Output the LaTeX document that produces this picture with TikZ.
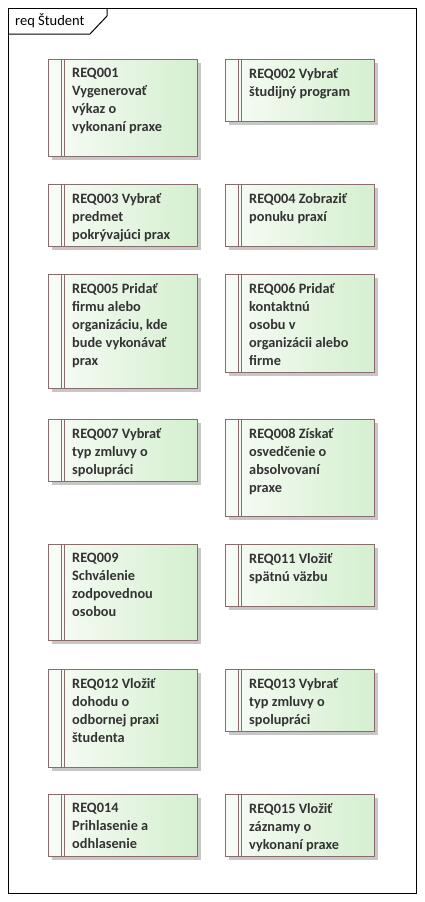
\documentclass[tikz,border=0pt]{standalone}
\usepackage{fontspec}
\newfontfamily\reqfamily{Carlito}
\usepackage{xcolor}
\usepackage{tikz}
\usetikzlibrary{shadows}
\usetikzlibrary{positioning}

\definecolor{reqborder}{RGB}{139,108,108}
\definecolor{reqgreen}{RGB}{212,239,207}
\definecolor{reqwhite}{RGB}{248,252,247}

\begin{document}
\begin{tikzpicture}[
    x=1pt, y=-1pt,
    reqbox/.style={rectangle, draw=reqborder, line width=1pt, anchor=north west, inner sep=+0pt,
        minimum width=149pt, left color=reqwhite, right color=reqgreen,
        drop shadow={shadow xshift=3pt, shadow yshift=-3pt, fill=black!22, opacity=1}},
    reqtext/.style={anchor=north west, inner sep=+0pt, align=left, text=black!80,
        font=\reqfamily\bfseries\fontsize{14.3}{18}\selectfont, execute at begin node=\strut},
    ]
\useasboundingbox (0,0) rectangle (424,902);

% frame
\draw[line width=1pt] (8,8) rectangle (416,893);
\draw[line width=1pt] (8,34) -- (90,34) -- (107,16) -- (107,8);
\node[anchor=base west, inner sep=+0pt, font=\reqfamily\fontsize{14.5}{16}\selectfont] (title) at (15,25) {req Študent};

% requirements
\node[reqbox, minimum height=97pt]  (r1)  at (48,59)  {};
\node[reqbox, minimum height=62pt]  (r2)  at (225,59) {};
\node[reqbox, minimum height=62pt]  (r3)  at (48,184) {};
\node[reqbox, minimum height=62pt]  (r4)  at (225,184) {};
\node[reqbox, minimum height=114pt] (r5)  at (48,274) {};
\node[reqbox, minimum height=98pt]  (r6)  at (225,274) {};
\node[reqbox, minimum height=62pt]  (r7)  at (48,419) {};
\node[reqbox, minimum height=97pt]  (r8)  at (225,419) {};
\node[reqbox, minimum height=96pt]  (r9)  at (48,544) {};
\node[reqbox, minimum height=62pt]  (r11) at (225,544) {};
\node[reqbox, minimum height=98pt]  (r12) at (48,669) {};
\node[reqbox, minimum height=62pt]  (r13) at (225,669) {};
\node[reqbox, minimum height=62pt]  (r14) at (48,794) {};
\node[reqbox, minimum height=62pt]  (r15) at (225,794) {};

\foreach \n in {r1,r2,r3,r4,r5,r6,r7,r8,r9,r11,r12,r13,r14,r15} {
    \draw[reqborder, line width=1pt] ([xshift=13pt]\n.north west) -- ([xshift=13pt]\n.south west);
    \draw[reqborder, line width=1pt] ([xshift=16pt]\n.north west) -- ([xshift=16pt]\n.south west);
}

\node[reqtext] (t1)  at ([xshift=24pt,yshift=-9.4pt]r1.north west)  {REQ001\\Vygenerovať\\výkaz o\\vykonaní praxe};
\node[reqtext] (t2)  at ([xshift=24pt,yshift=-9.4pt]r2.north west)  {REQ002 Vybrať\\študijný program};
\node[reqtext] (t3)  at ([xshift=24pt,yshift=-9.4pt]r3.north west)  {REQ003 Vybrať\\predmet\\pokrývajúci prax};
\node[reqtext] (t4)  at ([xshift=24pt,yshift=-9.4pt]r4.north west)  {REQ004 Zobraziť\\ponuku praxí};
\node[reqtext] (t5)  at ([xshift=24pt,yshift=-9.4pt]r5.north west)  {REQ005 Pridať\\firmu alebo\\organizáciu, kde\\bude vykonávať\\prax};
\node[reqtext] (t6)  at ([xshift=24pt,yshift=-9.4pt]r6.north west)  {REQ006 Pridať\\kontaktnú\\osobu v\\organizácii alebo\\firme};
\node[reqtext] (t7)  at ([xshift=24pt,yshift=-9.4pt]r7.north west)  {REQ007 Vybrať\\typ zmluvy o\\spolupráci};
\node[reqtext] (t8)  at ([xshift=24pt,yshift=-9.4pt]r8.north west)  {REQ008 Získať\\osvedčenie o\\absolvovaní\\praxe};
\node[reqtext] (t9)  at ([xshift=24pt,yshift=-9.4pt]r9.north west)  {REQ009\\Schválenie\\zodpovednou\\osobou};
\node[reqtext] (t11) at ([xshift=24pt,yshift=-9.4pt]r11.north west) {REQ011 Vložiť\\spätnú väzbu};
\node[reqtext] (t12) at ([xshift=24pt,yshift=-9.4pt]r12.north west) {REQ012 Vložiť\\dohodu o\\odbornej praxi\\študenta};
\node[reqtext] (t13) at ([xshift=24pt,yshift=-9.4pt]r13.north west) {REQ013 Vybrať\\typ zmluvy o\\spolupráci};
\node[reqtext] (t14) at ([xshift=24pt,yshift=-9.4pt]r14.north west) {REQ014\\Prihlasenie a\\odhlasenie};
\node[reqtext] (t15) at ([xshift=24pt,yshift=-9.4pt]r15.north west) {REQ015 Vložiť\\záznamy o\\vykonaní praxe};

\end{tikzpicture}
\end{document}
